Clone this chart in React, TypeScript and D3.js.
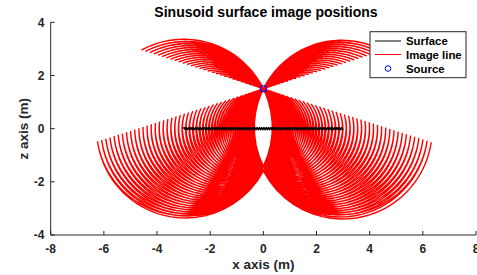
import React from "react";
import * as d3 from "d3";

// ---- data ----
const xTicks = [-8, -6, -4, -2, 0, 2, 4, 6, 8];
const zTicks = [-4, -2, 0, 2, 4];
const xDomain = [-8, 8];
const zDomain = [-4, 4];
const sourcePos = [0, 1.5]; // source (x, z)
const surfaceRange = [-3, 3]; // surface extent in x
const surfaceWavelength = [6 / 70]; // sinusoid wavelength (m)
const surfaceAmplitude = [0.043]; // sinusoid amplitude (m)
const legendLabels = ["Surface", "Image line", "Source"];

const W = 477;
const H = 275;
const FONT = "'Liberation Sans', Arial, Helvetica, sans-serif";
const AXC = "#262626";

export default function App() {
  const x = d3.scaleLinear().domain(xDomain).range([50.7, 476]);
  const z = d3.scaleLinear().domain(zDomain).range([235, 22.3]);

  const lam = surfaceWavelength[0];
  const A = surfaceAmplitude[0];
  const k = (2 * Math.PI) / lam;
  const n = Math.round(((surfaceRange[1] - surfaceRange[0]) / lam) * 300);
  const xs = d3.range(n + 1).map((i) => surfaceRange[0] + ((surfaceRange[1] - surfaceRange[0]) * i) / n);

  const surface: [number, number][] = xs.map((xv) => [xv, A * Math.sin(k * xv)]);
  const images: [number, number][] = xs.map((xv) => {
    const zs = A * Math.sin(k * xv);
    const s = A * k * Math.cos(k * xv);
    const nn = Math.hypot(1, s);
    const tx = 1 / nn, tz = s / nn;
    const vx = sourcePos[0] - xv, vz = sourcePos[1] - zs;
    const d = vx * tx + vz * tz;
    return [xv + 2 * d * tx - vx, zs + 2 * d * tz - vz];
  });

  const line = d3
    .line<[number, number]>()
    .x((d) => x(d[0]))
    .y((d) => z(d[1]));

  const left = x(xDomain[0]);
  const bottom = z(zDomain[0]);

  const lgX = 370, lgY = 31.7, lgW = 96, lgH = 46;
  const rowY = [41, 54.5, 68.5];

  return (
    <svg
      width={W}
      height={H}
      style={{ position: "fixed", left: 0, top: 0, background: "#fff" }}
      fontFamily={FONT}
    >
      <rect x={0} y={0} width={W} height={H} fill="#fff" />
      <defs>
        <clipPath id="plotclip">
          <rect x={left} y={z(zDomain[1])} width={x(xDomain[1]) - left} height={bottom - z(zDomain[1])} />
        </clipPath>
      </defs>
      <g clipPath="url(#plotclip)">
        <path d={line(images) || ""} fill="none" stroke="#ff0000" strokeWidth={1.4} />
        <path d={line(surface) || ""} fill="none" stroke="#000" strokeWidth={1.3} />
        <circle cx={x(sourcePos[0])} cy={z(sourcePos[1])} r={3} fill="none" stroke="#0000ff" strokeWidth={1.2} />
      </g>

      {/* axes */}
      <line x1={left} x2={x(xDomain[1])} y1={bottom} y2={bottom} stroke={AXC} strokeWidth={1} />
      <line x1={left} x2={left} y1={bottom} y2={z(zDomain[1])} stroke={AXC} strokeWidth={1} />
      {xTicks.map((t) => (
        <g key={"xt" + t}>
          <line x1={x(t)} x2={x(t)} y1={bottom} y2={bottom - 4} stroke={AXC} strokeWidth={1} />
          <text x={x(t)} y={252.7} textAnchor="middle" fontSize={12} fontWeight="bold" fill={AXC}>
            {String(t)}
          </text>
        </g>
      ))}
      {zTicks.map((t) => (
        <g key={"zt" + t}>
          <line x1={left} x2={left + 4} y1={z(t)} y2={z(t)} stroke={AXC} strokeWidth={1} />
          <text x={44.5} y={z(t) + 4.2} textAnchor="end" fontSize={12} fontWeight="bold" fill={AXC}>
            {String(t)}
          </text>
        </g>
      ))}

      <text x={263.3} y={268.7} textAnchor="middle" fontSize={13.5} fontWeight="bold" fill={AXC}>
        x axis (m)
      </text>
      <text
        transform={`translate(27.5,128.7) rotate(-90)`}
        textAnchor="middle"
        fontSize={13.5}
        fontWeight="bold"
        fill={AXC}
      >
        z axis (m)
      </text>
      <text x={266} y={17} textAnchor="middle" fontSize={14} fontWeight="bold" fill="#000">
        Sinusoid surface image positions
      </text>

      {/* legend */}
      <rect x={lgX} y={lgY} width={lgW} height={lgH} fill="#fff" stroke={AXC} strokeWidth={1} />
      <line x1={375} x2={401} y1={rowY[0]} y2={rowY[0]} stroke="#000" strokeWidth={1} />
      <line x1={375} x2={401} y1={rowY[1]} y2={rowY[1]} stroke="#ff0000" strokeWidth={1} />
      <circle cx={388} cy={rowY[2]} r={2.8} fill="none" stroke="#0000ff" strokeWidth={1} />
      {legendLabels.map((l, i) => (
        <text key={l} x={406} y={rowY[i] + 4} fontSize={11.4} fontWeight="bold" fill="#000">
          {l}
        </text>
      ))}
    </svg>
  );
}
